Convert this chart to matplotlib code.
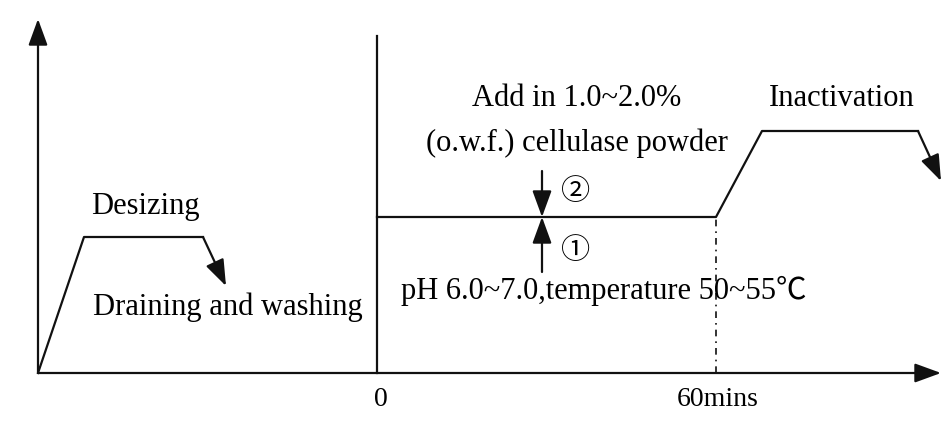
import matplotlib

matplotlib.use("Agg")

import matplotlib.pyplot as plt

plt.rcParams["font.family"] = ["Liberation Serif", "Noto Sans CJK SC", "DejaVu Sans"]

# Schematic process profile (x: time-ish, y: temperature-ish, arbitrary units)
desizing_x = [0, 46, 165]
desizing_y = [0, 136, 136]
desizing_drop = (188, 87)

enzyme_x = [339, 678, 724, 880]
enzyme_y = [156, 156, 242, 242]
inactivation_drop = (903, 192)

zero_x = 339
end_x = 678
dose_x = 504
dose_from_above = 202
dose_from_below = 101

axis_x_end = 903
axis_y_end = 354
divider_top = 337

LINE = "#111111"
LW = 1.6
FS = 22

fig = plt.figure(figsize=(9.43, 4.31), dpi=100)
ax = fig.add_axes([0, 0, 1, 1])
ax.set_xlim(-38, 905)
ax.set_ylim(-57, 374)
ax.set_axis_off()
fig.patch.set_facecolor("white")


def arrow(x0, y0, x1, y1, hl=1.15, hw=0.42):
    ax.annotate(
        "", xy=(x1, y1), xytext=(x0, y0),
        arrowprops=dict(
            arrowstyle=f"-|>,head_length={hl},head_width={hw}",
            color=LINE, lw=LW, shrinkA=0, shrinkB=0, mutation_scale=14,
        ),
    )


# axes
arrow(0, 0, 0, axis_y_end)
arrow(0, 0, axis_x_end, 0)
ax.plot([zero_x, zero_x], [0, divider_top], color=LINE, lw=LW)

# desizing stage
ax.plot(desizing_x, desizing_y, color=LINE, lw=LW)
arrow(desizing_x[-1], desizing_y[-1], *desizing_drop)

# enzyme stage + inactivation
ax.plot(enzyme_x, enzyme_y, color=LINE, lw=LW)
arrow(enzyme_x[-1], enzyme_y[-1], *inactivation_drop)
ax.plot([end_x, end_x], [0, enzyme_y[1]], color=LINE, lw=1.2,
        linestyle=(0, (4, 3, 1, 3)))

# dosing arrows
arrow(dose_x, dose_from_above, dose_x, enzyme_y[0])
arrow(dose_x, dose_from_below, dose_x, enzyme_y[0])

ax.text(53, 167, "Desizing", fontsize=FS, ha="left", va="center")
ax.text(55, 67, "Draining and washing", fontsize=FS, ha="left", va="center")
ax.text(539, 276, "Add in 1.0~2.0%", fontsize=FS, ha="center", va="center")
ax.text(539, 231, "(o.w.f.) cellulase powder", fontsize=FS, ha="center", va="center")
ax.text(538, 181, "②", fontsize=FS - 1, ha="center", va="center")
ax.text(538, 122, "①", fontsize=FS - 1, ha="center", va="center")
ax.text(363, 83, "pH 6.0~7.0,temperature 50~55℃", fontsize=FS, ha="left", va="center")
ax.text(804, 276, "Inactivation", fontsize=FS, ha="center", va="center")
ax.text(zero_x + 4, -26, "0", fontsize=FS - 2, ha="center", va="center")
ax.text(end_x + 2, -26, "60mins", fontsize=FS - 2, ha="center", va="center")

fig.savefig("out.png", dpi=100, facecolor="white")
